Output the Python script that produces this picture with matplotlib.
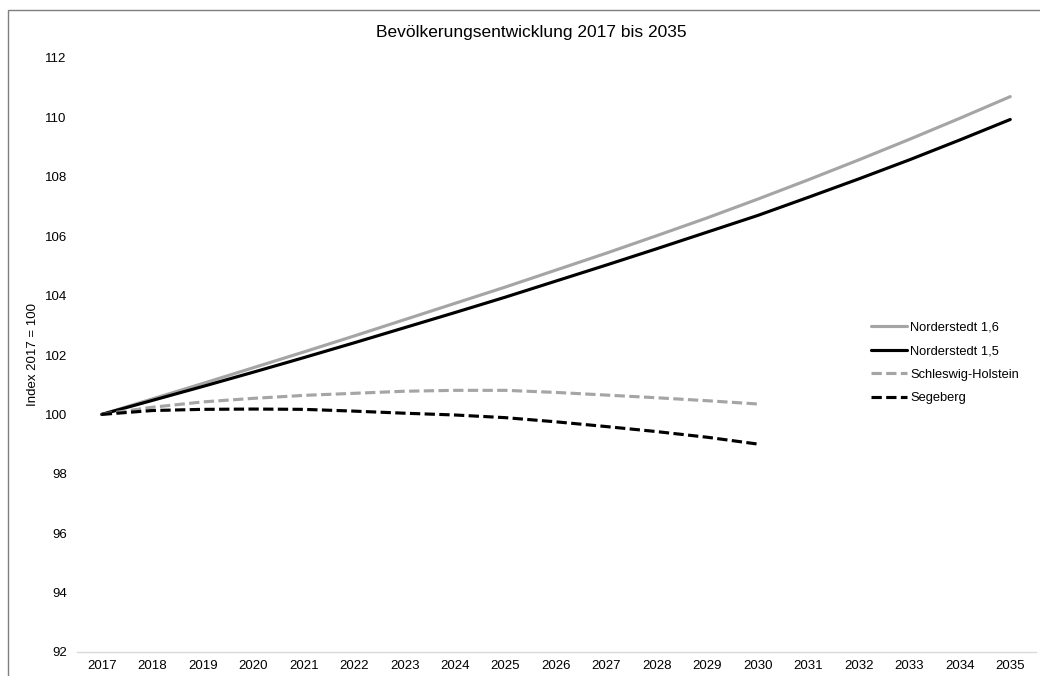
import matplotlib
matplotlib.use("Agg")
import matplotlib.pyplot as plt
from matplotlib.patches import Rectangle

years = list(range(2017, 2036))
years_short = list(range(2017, 2031))

norderstedt_16 = [100.00, 100.52, 101.04, 101.57, 102.10, 102.64, 103.19, 103.74, 104.29,
                  104.86, 105.43, 106.02, 106.62, 107.25, 107.90, 108.57, 109.26, 109.97, 110.70]
norderstedt_15 = [100.00, 100.47, 100.94, 101.42, 101.91, 102.41, 102.92, 103.43, 103.95,
                  104.49, 105.03, 105.58, 106.14, 106.70, 107.31, 107.93, 108.57, 109.24, 109.93]
schleswig_holstein = [100.00, 100.24, 100.42, 100.54, 100.64, 100.71, 100.78, 100.81, 100.81,
                      100.74, 100.65, 100.56, 100.46, 100.35]
segeberg = [100.00, 100.13, 100.17, 100.18, 100.17, 100.11, 100.04, 99.98, 99.89,
            99.75, 99.59, 99.42, 99.23, 99.00]

labels = ["Norderstedt 1,6", "Norderstedt 1,5", "Schleswig-Holstein", "Segeberg"]
y_ticks = list(range(92, 113, 2))

plt.rcParams['font.family'] = ['Liberation Sans', 'DejaVu Sans']

W, H = 1040, 676
fig = plt.figure(figsize=(W / 100, H / 100), dpi=100)
fig.patch.set_facecolor('white')

left, right, top, bottom = 76.5, 1035.5, 58, 652
ax = fig.add_axes([left / W, 1 - bottom / H, (right - left) / W, (bottom - top) / H])

gray = '#A5A5A5'
black = '#000000'
lw = 2.25

ax.plot(years, norderstedt_16, color=gray, lw=lw, label=labels[0], solid_capstyle='round')
ax.plot(years, norderstedt_15, color=black, lw=lw, label=labels[1], solid_capstyle='round')
ax.plot(years_short, schleswig_holstein, color=gray, lw=lw, label=labels[2],
        dashes=(3.3, 1.4), dash_capstyle='butt')
ax.plot(years_short, segeberg, color=black, lw=lw, label=labels[3],
        dashes=(3.3, 1.4), dash_capstyle='butt')

ax.set_xlim(2016.5, 2035.5)
ax.set_ylim(92, 112)
ax.set_xticks(years)
ax.set_xticklabels([str(y) for y in years], fontsize=9.5)
ax.set_yticks(y_ticks)
ax.set_yticklabels([str(v) for v in y_ticks], fontsize=9.5)
ax.tick_params(axis='both', length=0, colors='#000000')
ax.tick_params(axis='x', pad=6)
ax.tick_params(axis='y', pad=7)

for s in ['top', 'right', 'left']:
    ax.spines[s].set_visible(False)
ax.spines['bottom'].set_color('#D9D9D9')
ax.spines['bottom'].set_linewidth(1)

ax.set_ylabel("")
fig.text(33 / W, 1 - 355 / H, "Index 2017 = 100", rotation=90,
         ha='center', va='center', fontsize=9.5)

fig.text(531 / W, 1 - 33 / H, "Bevölkerungsentwicklung 2017 bis 2035",
         ha='center', va='center', fontsize=12.5)

leg = ax.legend(loc='center left', bbox_to_anchor=(871 / W, 1 - 363 / H),
                bbox_transform=fig.transFigure, frameon=False, fontsize=9.3,
                handlelength=2.75, handletextpad=0.3, labelspacing=0.88,
                borderaxespad=0, borderpad=0)

fig.patches.append(Rectangle((8 / W, -0.1), 1.2, 1 - 10 / H + 0.1,
                             transform=fig.transFigure, fill=False,
                             edgecolor='#7F7F7F', lw=1))

fig.savefig("out.png", dpi=100, facecolor='white')
